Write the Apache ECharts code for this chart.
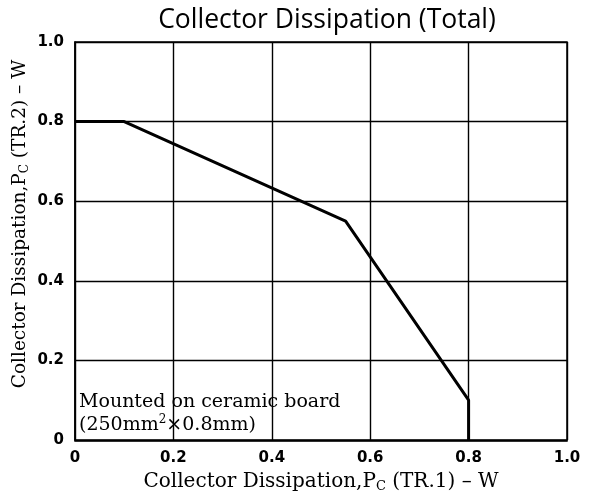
<!DOCTYPE html>
<html><head><meta charset="utf-8">
<script src="https://cdn.jsdelivr.net/npm/echarts@6/dist/echarts.min.js"></script>
<style>html,body{margin:0;padding:0;background:#fff}#c{width:591px;height:498px}</style>
</head><body><div id="c"></div>
<script>
const titleText = 'Collector Dissipation (Total)';
const xTicks = [0, 0.2, 0.4, 0.6, 0.8, 1.0];
const yTicks = [0, 0.2, 0.4, 0.6, 0.8, 1.0];
const tr1 = [0, 0.1, 0.55, 0.8, 0.8];
const tr2 = [0.8, 0.8, 0.55, 0.1, 0];
const xName = ['Collector Dissipation,P', 'C', ' (TR.1) – W'];
const yName = ['Collector Dissipation,P', 'C', ' (TR.2) – W'];
const noteLines = ['Mounted on ceramic board', '(250mm', '2', '×0.8mm)'];

const chart = echarts.init(document.getElementById('c'));
const fmt = v => v === 0 ? '0' : v.toFixed(1);
const serif = '"DejaVu Serif", "Liberation Serif", serif';
const mkRich = (n, s) => ({
  n: {fontFamily: serif, fontSize: n, color: '#000'},
  s: {fontFamily: serif, fontSize: s, color: '#000', padding: [10, 0, 0, 0]}
});
const labelStyle = {formatter: fmt, fontFamily: '"DejaVu Sans", sans-serif', fontWeight: 'bold', fontSize: 15, color: '#000'};
chart.setOption({
  animation: false,
  title: {
    text: titleText, left: 322, top: 2, textAlign: 'center',
    textStyle: {fontFamily: '"Open Sans", "Noto Sans", sans-serif', fontWeight: 'normal', fontSize: 26.5, color: '#000'}
  },
  grid: {left: 75, right: 24, top: 42, bottom: 57},
  xAxis: {
    type: 'value', min: 0, max: 1, interval: 0.2,
    name: '{n|' + xName[0] + '}{s|' + xName[1] + '}{n|' + xName[2] + '}',
    nameLocation: 'middle', nameGap: 30,
    nameTextStyle: {rich: mkRich(20, 13)},
    axisLine: {show: true, lineStyle: {color: '#000', width: 1.5}},
    axisTick: {show: false},
    axisLabel: Object.assign({margin: 11}, labelStyle),
    splitLine: {show: true, lineStyle: {color: '#000', width: 1.4}}
  },
  yAxis: {
    type: 'value', min: 0, max: 1, interval: 0.2,
    axisLine: {show: true, lineStyle: {color: '#000', width: 1.5}},
    axisTick: {show: false},
    axisLabel: Object.assign({margin: 11}, labelStyle),
    splitLine: {show: true, lineStyle: {color: '#000', width: 1.4}}
  },
  graphic: [
    {type: 'rect', shape: {x: 75, y: 42, width: 492, height: 399}, style: {fill: 'none', stroke: '#000', lineWidth: 1.5}, silent: true},
    {type: 'text', x: 20, y: 224, rotation: Math.PI / 2, style: {
      text: '{n|' + yName[0] + '}{s|' + yName[1] + '}{n|' + yName[2] + '}',
      align: 'center', verticalAlign: 'middle', rich: mkRich(18.5, 12)
    }},
    {type: 'text', left: 79, top: 393, style: {
      text: '{n|' + noteLines[0] + '}\n{n|' + noteLines[1] + '}{s|' + noteLines[2] + '}{n|' + noteLines[3] + '}',
      rich: {n: {fontFamily: serif, fontSize: 19, color: '#000', lineHeight: 23}, s: {fontFamily: serif, fontSize: 12, color: '#000', padding: [0, 0, 12, 0], lineHeight: 23}}
    }}
  ],
  series: [{
    type: 'line', data: tr1.map((x, i) => [x, tr2[i]]),
    symbol: 'none', lineStyle: {color: '#000', width: 3}
  }]
});
</script></body></html>
